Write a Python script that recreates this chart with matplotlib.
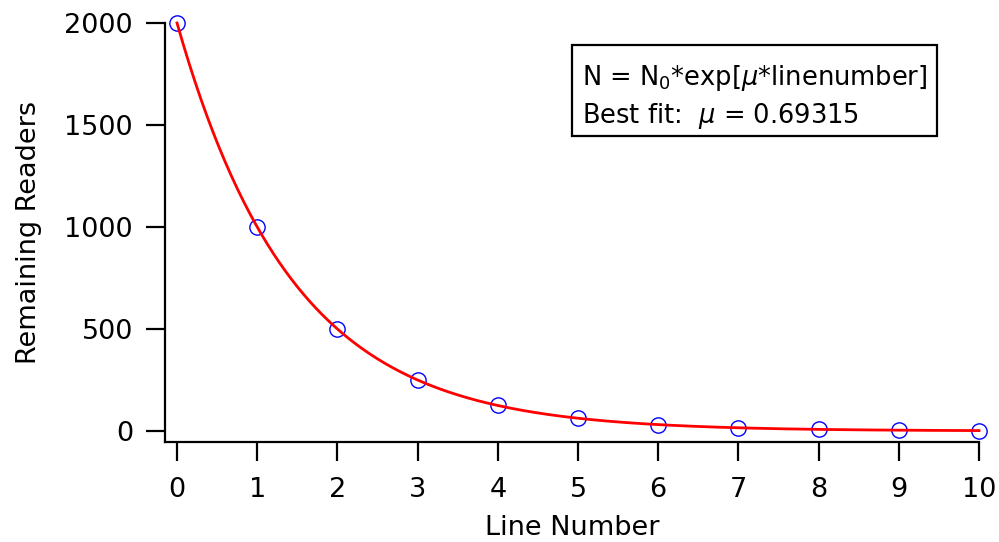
import matplotlib.pyplot as plt
import numpy as np

line_number = [0, 1, 2, 3, 4, 5, 6, 7, 8, 9, 10]
readers = [2000, 1000, 500, 250, 125, 62.5, 31, 16, 8, 4, 2]
n0 = 2000
mu = 0.69315
y_ticks = [0, 500, 1000, 1500, 2000]
x_ticks = list(range(11))

W, H = 999, 542
plt.rcParams['font.family'] = ['DejaVu Sans']
fig = plt.figure(figsize=(W / 100, H / 100), dpi=100)
ax = fig.add_axes([165 / W, (H - 442) / H, (979 - 165) / W, (442 - 23) / H])

xs = np.linspace(0, 10, 400)
ax.plot(line_number, readers, 'o', mfc='none', mec='#0000ff', ms=11, mew=1.0,
        clip_on=False, zorder=2)
ax.plot(xs, n0 * np.exp(-mu * xs), color='#ff0000', lw=2.0, clip_on=False, zorder=3)

ax.set_xlim(-0.15, 10)
ax.set_ylim(-54, 2000)
ax.set_xticks(x_ticks)
ax.set_yticks(y_ticks)
for s in ['top', 'right']:
    ax.spines[s].set_visible(False)
for s in ['left', 'bottom']:
    ax.spines[s].set_linewidth(1.6)
ax.tick_params(direction='out', length=14, width=1.6, labelsize=19.5, pad=9)
ax.tick_params(axis='x', pad=11)
ax.set_xlabel('Line Number', fontsize=19.5, labelpad=9)
ax.set_ylabel('Remaining Readers', fontsize=19.5, labelpad=16)

# text box with the fit result
box = plt.Rectangle((572 / W, 1 - 136 / H), (937 - 572) / W, (136 - 45) / H,
                    transform=fig.transFigure, fill=False, lw=1.6, ec='black')
fig.patches.append(box)
fig.text(582 / W, 1 - 85 / H, r'N = N$_0$*exp[$\mu$*linenumber]', fontsize=18.5, va='baseline')
fig.text(582 / W, 1 - 123 / H, r'Best fit:  $\mu$ = 0.69315', fontsize=18.5, va='baseline')

fig.savefig('out.png', dpi=100)
